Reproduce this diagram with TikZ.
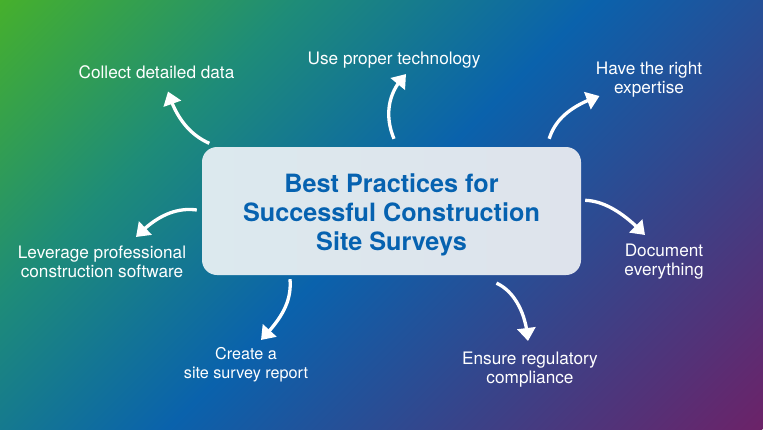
\documentclass[tikz,border=0pt]{standalone}
\usepackage{fontspec}
\setmainfont{TeX Gyre Heros}
\usetikzlibrary{arrows.meta,bending}
\definecolor{cgreen}{HTML}{46B02C}
\definecolor{cteal}{HTML}{1E8C78}
\definecolor{cblue}{HTML}{0A62AC}
\definecolor{cindigo}{HTML}{3A4288}
\definecolor{cpurple}{HTML}{6C2268}
\definecolor{ctitle}{HTML}{0662B0}
\definecolor{cardl}{HTML}{DCE9EE}
\definecolor{cardr}{HTML}{DEE3EC}
\pgfdeclarehorizontalshading{bggrad}{100bp}{color(0bp)=(cgreen); color(25bp)=(cgreen); color(37.5bp)=(cteal); color(50bp)=(cblue); color(62.5bp)=(cindigo); color(75bp)=(cpurple); color(100bp)=(cpurple)}
\tikzset{
  x=1pt,y=-1pt,
  label text/.style={text=white,font=\fontsize{17.2}{19}\selectfont,align=center,inner sep=0pt},
  small label/.style={label text,font=\fontsize{16.2}{18.5}\selectfont},
  card box/.style={rounded corners=15pt,left color=cardl,right color=cardr,draw=none,minimum width=379pt,minimum height=128pt,inner sep=0pt},
  title text/.style={text=ctitle,align=center,inner sep=0pt,font=\fontsize{25.2}{29}\selectfont\bfseries},
  flow/.style={draw=white,line width=3.3pt,-{Triangle[width=18pt,length=13pt,flex=1]}}
}
\begin{document}
\begin{tikzpicture}
\useasboundingbox (0,0) rectangle (763,429);
\begin{scope}
\clip (0,0) rectangle (763,429);
\begin{scope}[transform canvas={rotate around={-45:(0,0)}}]
\shade[shading=bggrad] (0,-800) rectangle (843,800);
\end{scope}
\end{scope}
\node[card box] (card) at (391.5,211) {};
\node[title text] (title) at (391.5,215) {Best Practices for\\Successful Construction\\Site Surveys};
\node[label text] (collect) at (156.5,72.5) {Collect detailed data};
\node[label text] (tech) at (394,60) {Use proper technology};
\node[label text] (expert) at (649,80) {Have the right\\expertise};
\node[label text] (doc) at (664,262) {Document\\everything};
\node[label text] (ensure) at (530,370) {Ensure regulatory\\compliance};
\node[small label] (report) at (246,364.5) {Create a\\site survey report};
\node[label text] (soft) at (102,262) {Leverage professional\\construction software};
\coordinate (e1) at (168,91.5);
\coordinate (e2) at (406,74);
\coordinate (e3) at (599.5,96);
\coordinate (e4) at (645,235);
\coordinate (e5) at (528,341);
\coordinate (e6) at (261,340);
\coordinate (e7) at (136,237);
\draw[flow] ([shift={(7.5,-3.5)}]card.north west) .. controls (188,134) and (175,115) .. (e1);
\draw[flow] ([shift={(2.5,-8)}]card.north) .. controls (386,120) and (385,95) .. (e2);
\draw[flow] ([shift={(-32,-8)}]card.north east) .. controls (555,120) and (570,106) .. (e3);
\draw[flow] ([shift={(4,53.5)}]card.north east) .. controls (605,201) and (625,214) .. (e4);
\draw[flow] ([shift={(105,8)}]card.south) .. controls (512,290) and (526,310) .. (e5);
\draw[flow] ([shift={(-101.5,4)}]card.south) .. controls (292,303) and (280,320) .. (e6);
\draw[flow] ([shift={(-5,-1)}]card.west) .. controls (175,207) and (155,217) .. (e7);
\end{tikzpicture}
\end{document}
